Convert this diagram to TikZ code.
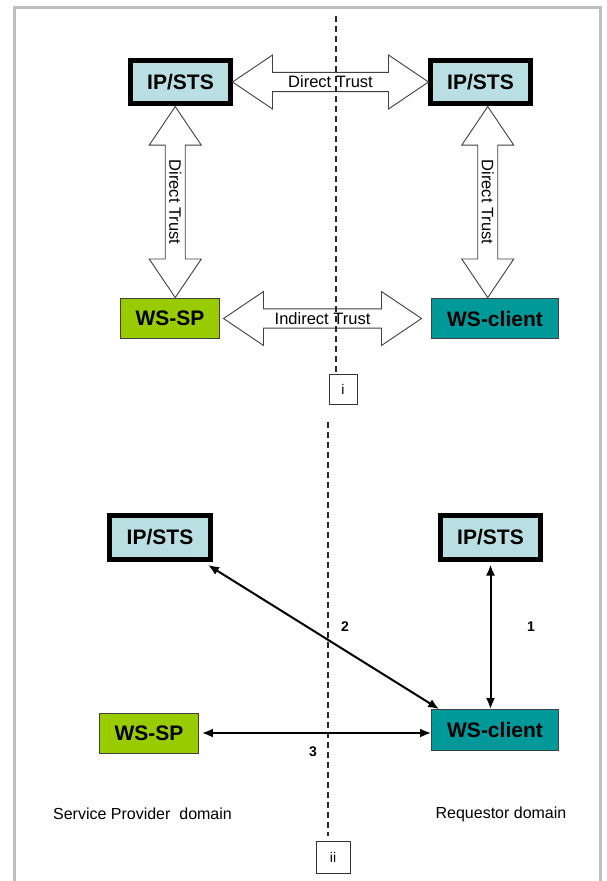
\documentclass[tikz,border=0pt]{standalone}
\usepackage{fontspec}
\setmainfont{Liberation Sans}
\usetikzlibrary{positioning,calc,shapes.arrows,arrows.meta}

\definecolor{stsblue}{HTML}{B9DFE3}
\definecolor{spgreen}{HTML}{99CC00}
\definecolor{clteal}{HTML}{009999}

\begin{document}
\begin{tikzpicture}[x=1pt,y=-1pt,
  sts/.style={draw=black,line width=5pt,fill=stsblue,inner sep=0pt,
    minimum width=100pt,minimum height=43pt,
    font=\fontsize{21}{25}\selectfont\bfseries},
  wsbox/.style={draw=black!75,line width=0.8pt,inner sep=0pt,
    minimum height=40pt,font=\fontsize{21}{25}\selectfont\bfseries},
  trust/.style={shape=double arrow,draw=black!75,line width=0.9pt,fill=white,
    inner xsep=0pt,inner ysep=1pt,minimum width=54pt,
    double arrow head extend=13.5pt,double arrow tip angle=68,
    font=\fontsize{16.5}{19}\selectfont},
  num/.style={font=\fontsize{14}{16}\selectfont\bfseries},
  tag/.style={draw=black!80,line width=0.8pt,fill=white,inner sep=0pt,
    font=\fontsize{14}{16}\selectfont},
  split/.style={dash pattern=on 6pt off 4pt,line width=1.4pt,black!85},
  link/.style={{Latex[length=11pt,width=9pt]}-{Latex[length=11pt,width=9pt]},
    line width=2pt}]
  \useasboundingbox (0,0) rectangle (606,881);
  \draw[black!25,line width=3pt] (14,881) -- (14,7) -- (600,7) -- (600,881);

  % i: trust relations
  \node[sts] (tlsts) at (180.5,82) {IP/STS};
  \node[sts] (trsts) at (480.5,82) {IP/STS};
  \node[wsbox,fill=spgreen,minimum width=99pt] (tlsp) at (170,318.5) {WS-SP};
  \node[wsbox,fill=clteal,minimum width=127pt] (trcl) at (495,318.5) {WS-client};

  \node[trust,minimum height=196pt] (dtrust)
    at ($(tlsts.east)!0.5!(trsts.west)$) {Direct Trust};
  \node[trust,rotate=-90,minimum height=191pt,minimum width=52pt,
    double arrow head extend=12pt] (ltrust)
    at ($(tlsts.south)!0.5!(tlsp.north)$) {Direct Trust};
  \node[trust,rotate=-90,minimum height=191pt,minimum width=52pt,
    double arrow head extend=12pt] (rtrust)
    at ($(trsts.south)!0.5!(trcl.north)$) {Direct Trust};
  \node[trust,minimum height=198pt,xshift=-3pt] (itrust)
    at ($(tlsp.east)!0.5!(trcl.west)$) {Indirect Trust};

  \coordinate (cuttop) at (336,16);
  \node[tag,minimum width=28pt,minimum height=30pt] (cuti) at (343,389) {i};
  \draw[split] (cuttop) -- (cuttop |- cuti.north);

  % ii: message flow
  \node[sts,minimum width=101pt,minimum height=44pt] (blsts) at (160,537.5) {IP/STS};
  \node[sts,minimum height=44pt] (brsts) at (490.5,537.5) {IP/STS};
  \node[wsbox,fill=spgreen,minimum width=99pt] (blsp) at (149,733) {WS-SP};
  \node[wsbox,fill=clteal,minimum width=127pt,minimum height=41pt] (brcl)
    at (495,730) {WS-client};

  \coordinate (cutbot) at (328,422);
  \node[tag,minimum width=34pt,minimum height=32pt] (cutii) at (333,857) {ii};
  \draw[split,shorten >=5pt] (cutbot) -- (cutbot |- cutii.north);

  \draw[link,shorten <=2.5pt] (brsts.south) -- (brsts.south |- brcl.north);
  \draw[link] ([xshift=-5pt,yshift=-3pt]blsts.south east)
    -- ([xshift=8pt]brcl.north west);
  \draw[link,shorten <=3pt] (blsp.east) -- (blsp.east -| brcl.west);

  \node[num] (n1) at (531,627) {1};
  \node[num] (n2) at (345,627) {2};
  \node[num] (n3) at (313,752) {3};

  \node[font=\fontsize{16}{19}\selectfont] (spdom) at (142.5,814)
    {Service Provider\ \ domain};
  \node[font=\fontsize{16}{19}\selectfont] (rqdom) at (501,814)
    {Requestor domain};
\end{tikzpicture}
\end{document}
